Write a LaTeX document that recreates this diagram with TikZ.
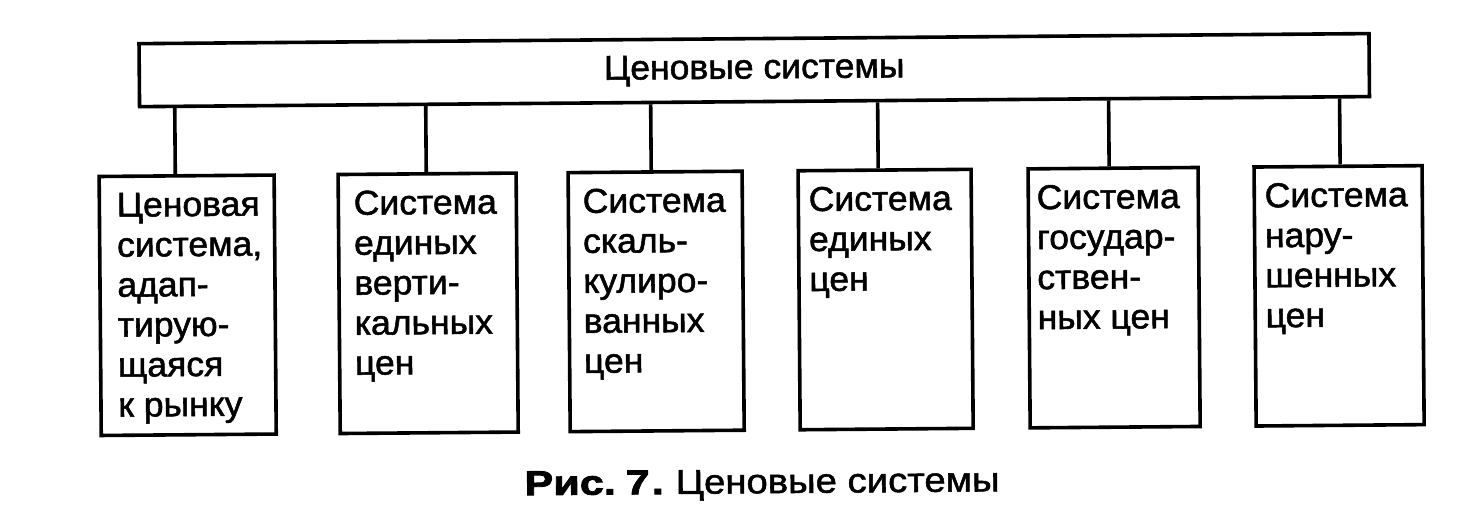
\documentclass[tikz,border=0pt]{standalone}
\usepackage{fontspec}
\setmainfont{Liberation Sans}[FakeBold=1.5, FakeStretch=1.03]
\newfontfamily\capfont{Liberation Sans}[FakeBold=1.5, FakeStretch=1.11]
\newfontfamily\capboldfont{Liberation Sans Bold}[FakeBold=2.5, FakeStretch=1.25]
\begin{document}
\begin{tikzpicture}[x=1pt,y=-1pt]
\tikzset{
  frame/.style={draw, line width=3.6pt, inner sep=0pt},
  conn/.style={line width=3.6pt},
  lbl/.style={font=\fontsize{34.5}{40}\selectfont},
  txt/.style={lbl, anchor=north west, inner sep=0pt, align=left},
  lowbox/.style={frame, anchor=north west, minimum height=259}
}
\useasboundingbox (0,0) rectangle (1464,520);
\begin{scope}[rotate around={0.47:(732,260)}, transform shape]
\node[frame, lbl, anchor=north west, minimum width=1230, minimum height=63] (top) at (139,37) {Ценовые системы};

\node[lowbox, minimum width=175] (b1) at (98,169.5) {};
\node[lowbox, minimum width=178] (b2) at (337,169.5) {};
\node[lowbox, minimum width=174] (b3) at (567,169.5) {};
\node[lowbox, minimum width=173] (b4) at (797,169.5) {};
\node[lowbox, minimum width=170] (b5) at (1027,169.5) {};
\node[lowbox, minimum width=168] (b6) at (1253,169.5) {};

\node[txt] (t1) at (117,186.5) {\rule{0pt}{25pt}Ценовая\\система,\\адап-\\тирую-\\щаяся\\к рынку};
\node[txt] (t2) at (354,186.5) {\rule{0pt}{25pt}Система\\единых\\верти-\\кальных\\цен};
\node[txt] (t3) at (583,186.5) {\rule{0pt}{25pt}Система\\скаль-\\кулиро-\\ванных\\цен};
\node[txt] (t4) at (809,186.5) {\rule{0pt}{25pt}Система\\единых\\цен};
\node[txt] (t5) at (1037,186.5) {\rule{0pt}{25pt}Система\\государ-\\ствен-\\ных цен};
\node[txt] (t6) at (1265,186.5) {\rule{0pt}{25pt}Система\\нару-\\шенных\\цен};

\coordinate (c1) at (176,135);
\coordinate (c2) at (427,135);
\coordinate (c3) at (652,135);
\coordinate (c4) at (879,135);
\coordinate (c5) at (1110,135);
\coordinate (c6) at (1341,135);
\foreach \i in {1,...,6}{
  \draw[conn] (top.south -| c\i) -- (b\i.north -| c\i);
}

\node[lbl, anchor=base west, inner sep=0pt] (cap) at (522.5,493.5)
  {{\capboldfont Рис.}\hspace{10pt}{\capboldfont 7\hspace{2pt}.}\hspace{12pt}{\capfont Ценовые системы}};
\end{scope}
\end{tikzpicture}
\end{document}
